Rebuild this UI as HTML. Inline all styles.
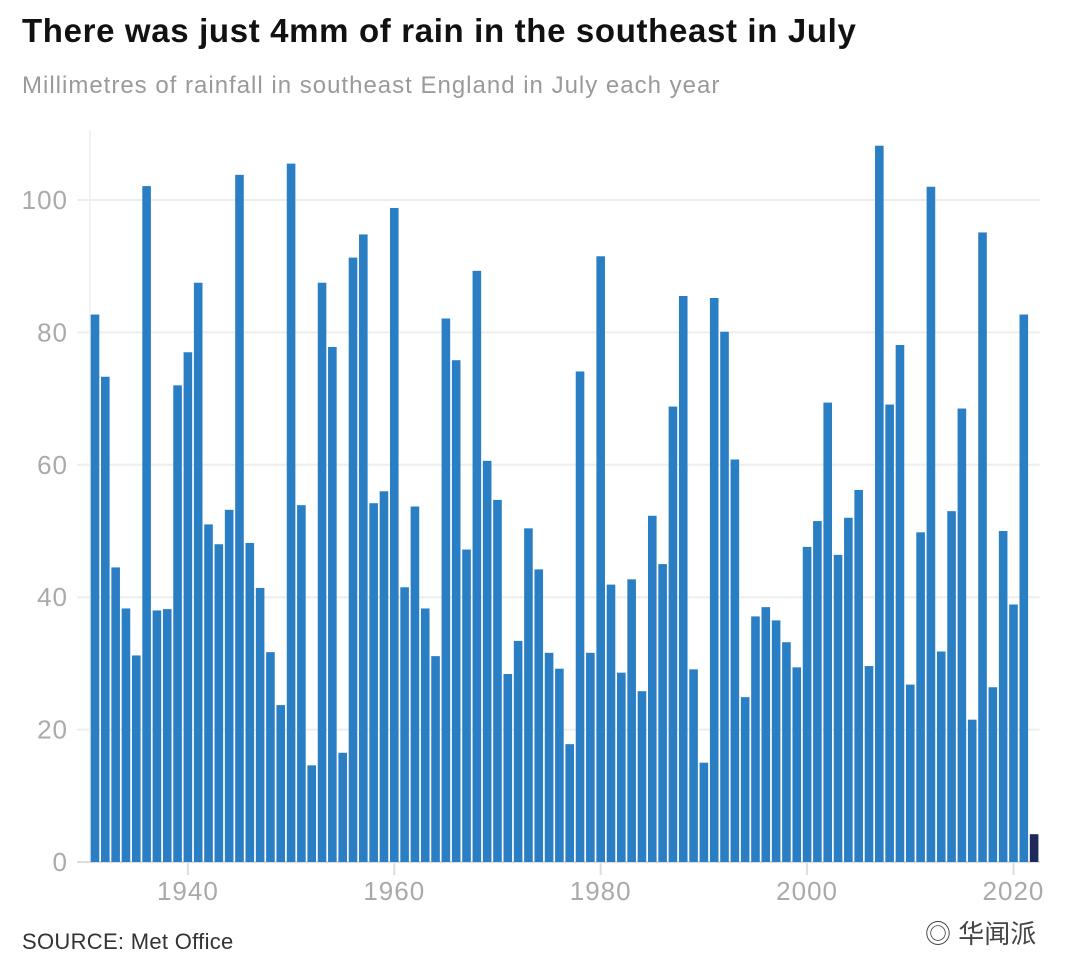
<!DOCTYPE html>
<html><head><meta charset="utf-8"><style>
html,body{margin:0;padding:0;background:#fff;width:1080px;height:980px;overflow:hidden;font-family:"Liberation Sans","Noto Sans CJK SC",sans-serif;}
#title{position:absolute;left:22px;top:12px;font-size:33px;font-weight:bold;color:#111;letter-spacing:0.65px}
#sub{position:absolute;left:22px;top:72px;font-size:24px;color:#9a9a9a;letter-spacing:1.0px}
#src{position:absolute;left:22px;top:929px;font-size:22px;color:#333;letter-spacing:0.3px}
#wm{position:absolute;left:925px;top:914px;font-size:26px;color:#444}
</style></head><body>
<div id="title">There was just 4mm of rain in the southeast in July</div>
<div id="sub">Millimetres of rainfall in southeast England in July each year</div>
<svg id="chart" width="1080" height="980" style="position:absolute;left:0;top:0"></svg>
<div id="src">SOURCE: Met Office</div>
<div id="wm">◎ 华闻派</div>
<script>
const years=[];for(let y=1931;y<=2022;y++)years.push(y);
const rainfall=[82.7,73.3,44.5,38.3,31.2,102.1,38.0,38.2,72.0,77.0,87.5,51.0,48.0,53.2,103.8,48.2,41.4,31.7,23.7,105.5,53.9,14.6,87.5,77.8,16.5,91.3,94.8,54.2,56.0,98.8,41.5,53.7,38.3,31.1,82.1,75.8,47.2,89.3,60.6,54.7,28.4,33.4,50.4,44.2,31.6,29.2,17.8,74.1,31.6,91.5,41.9,28.6,42.7,25.8,52.3,45.0,68.8,85.5,29.1,15.0,85.2,80.1,60.8,24.9,37.1,38.5,36.5,33.2,29.4,47.6,51.5,69.4,46.4,52.0,56.2,29.6,108.2,69.1,78.1,26.8,49.8,102.0,31.8,53.0,68.5,21.5,95.1,26.4,50.0,38.9,82.7,4.2];
const yTicks=[0,20,40,60,80,100];
const xTicks=[1940,1960,1980,2000,2020];
const NS="http://www.w3.org/2000/svg";
const svg=document.getElementById('chart');
const y=v=>862-v*6.62;
const x=yr=>95+(yr-1931)*10.32;
function mk(t,a){const e=document.createElementNS(NS,t);for(const k in a)e.setAttribute(k,a[k]);svg.appendChild(e);return e;}
const vl=mk('line',{x1:90,x2:90,y1:130,y2:862,stroke:'#eee','stroke-width':1.5});


yTicks.forEach(v=>{
 const g=mk('line',{x1:77,x2:1040,y1:y(v),y2:y(v),stroke:v===0?'#ddd':'#eee','stroke-width':2});
 
 
 const t=mk('text',{x:68,y:y(v)+9,'text-anchor':'end','font-size':26,'letter-spacing':1,fill:'#aaa','font-family':'Liberation Sans, sans-serif'});
 t.textContent=v;
 
 
});
xTicks.forEach(v=>{
 const l=mk('line',{x1:x(v),x2:x(v),y1:862,y2:875,stroke:'#ddd','stroke-width':2});
 
 
 const t=mk('text',{x:x(v),y:900,'text-anchor':'middle','font-size':26,'letter-spacing':1,fill:'#aaa','font-family':'Liberation Sans, sans-serif'});
 t.textContent=v;
 
 
});
years.forEach((yr,i)=>{
 const v=rainfall[i];
 const r=mk('rect',{x:x(yr)-4.3,y:y(v),width:8.6,height:862-y(v),fill:yr===2022?'#1f2a5c':'#2a7fc4'});
 
 
});
</script>
</body></html>
